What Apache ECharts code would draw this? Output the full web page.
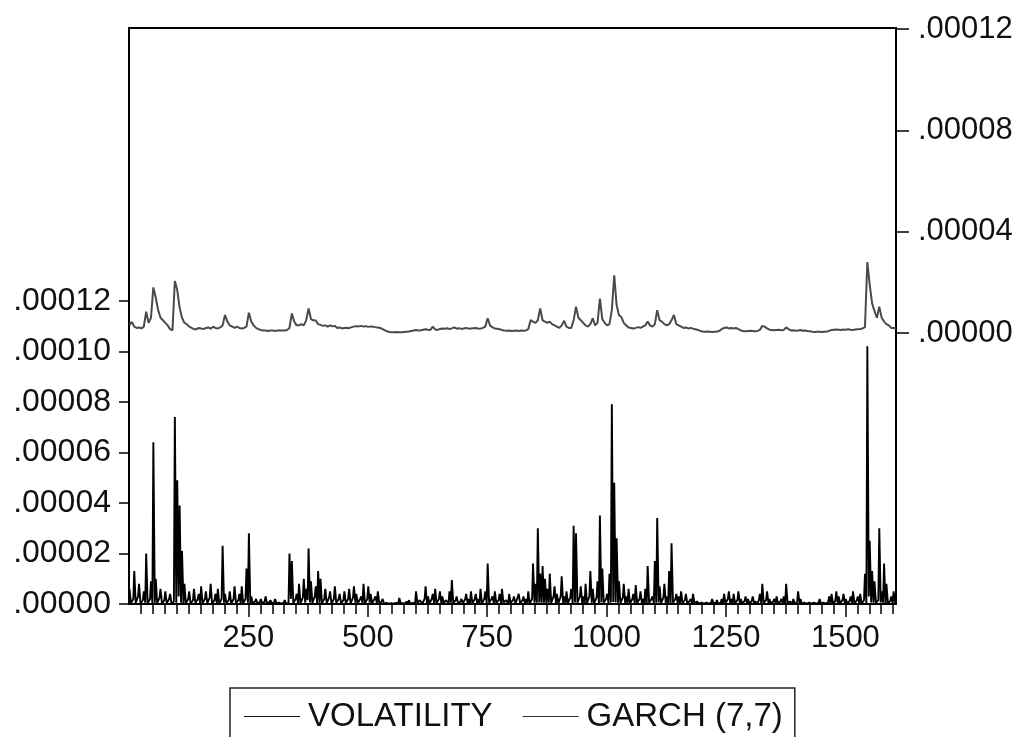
<!DOCTYPE html>
<html>
<head>
<meta charset="utf-8">
<script src="https://cdn.jsdelivr.net/npm/echarts@6/dist/echarts.min.js"></script>
<style>
html,body{margin:0;padding:0;background:#fff;}
#chart{width:1023px;height:737px;}
</style>
</head>
<body>
<div id="chart"></div>
<script>
// Values in units of 1e-6.
// volatility: read at observations 1, 6, 11, ... (every 5th)
// volatilityMid: read between them, at observations 4, 9, 14, ...
// garch: read at observations 1, 6, 11, ...
const obsStart = 1;
const obsStep = 5;
const midOffset = 3;
const seriesNames = ['VOLATILITY', 'GARCH (7,7)'];

const volatility = [
  6, 0.5, 13, 1, 8, 0.4, 5, 20, 0.5, 9,
  64, 10, 0.5, 6, 0.3, 5, 0.5, 4, 0.3, 74,
  49, 39, 21, 8, 0.5, 5, 0.3, 6, 0.5, 4,
  7, 0.3, 5, 0.5, 8, 0.3, 4, 6, 0.5, 23,
  4, 0.3, 5, 0.5, 7, 0.3, 4, 7, 0.5, 14,
  28, 3, 0.3, 2, 0.2, 2, 0.3, 3, 0.2, 1.5,
  0.2, 2, 0.3, 1, 0.2, 1.5, 0.4, 20, 17, 0.5,
  4, 8, 0.5, 10, 6, 22, 9, 0.5, 7, 13,
  10, 0.4, 6, 1, 5, 0.3, 7, 0.5, 4, 0.3,
  5, 0.5, 6, 0.3, 7, 4, 0.5, 3, 8, 0.4,
  7, 4, 0.5, 3, 5, 0.3, 2, 0.2, 1, 0.2,
  1, 0.2, 1, 2.4, 0.2, 0.5, 1, 1.5, 0.2, 1,
  5, 0.3, 2, 0.4, 7, 3, 0.5, 4, 6, 0.4,
  5, 3, 0.4, 2, 5, 9.5, 0.4, 3, 0.3, 2,
  0.4, 4, 2, 5, 0.4, 4, 2, 6, 0.4, 5,
  16, 0.5, 3, 5, 0.4, 4, 6, 0.4, 2, 4,
  0.3, 3, 1, 4, 0.3, 3, 2, 5, 0.5, 16,
  8, 30, 12, 15, 10, 6, 12, 0.5, 7, 4,
  0.5, 11, 3, 5, 0.4, 6, 31, 28, 0.5, 7,
  3, 8, 0.5, 13, 6, 0.4, 9, 35, 14, 0.5,
  4, 12, 79, 48, 26, 9, 0.5, 8, 3, 6,
  0.4, 4, 7.5, 0.5, 5, 2, 6, 15, 0.5, 3,
  17, 34, 7, 0.5, 8, 3, 13, 24, 0.5, 4,
  3, 5, 0.3, 4, 0.3, 2, 4, 0.3, 1, 0.2,
  1, 0.2, 1, 0.3, 2, 0.2, 1.5, 0.3, 2, 4,
  0.4, 5, 2, 4, 0.3, 5, 2, 0.3, 3, 2,
  0.3, 3, 1, 0.3, 4, 8, 0.4, 5, 2, 0.4,
  2, 3, 0.3, 2, 3, 8, 0.3, 1, 2, 0.2,
  5, 2, 0.2, 1, 0.2, 1, 0.2, 1, 0.3, 2,
  0.2, 1, 0.2, 3, 4, 0.3, 5, 3, 0.3, 4,
  2, 0.3, 3, 5, 0.4, 3, 4, 0.5, 12, 102,
  25, 13, 9, 0.5, 30, 5, 16, 8, 0.5, 3,
  5, 2
];

const volatilityMid = [
  0.3, 2, 0.4, 3, 0.2, 1.5, 0.5, 0.3, 2, 0.4,
  0.5, 0.3, 2.5, 0.2, 1.5, 0.3, 2, 0.2, 1, 0.5,
  3, 0.5, 0.4, 0.3, 2, 0.2, 1.5, 0.3, 2, 0.2,
  0.4, 2, 0.3, 2.5, 0.2, 1.5, 0.4, 0.3, 2, 0.5,
  0.3, 1.5, 0.2, 2, 0.3, 1.5, 0.2, 0.4, 2, 0.5,
  0.4, 0.2, 1, 0.1, 0.8, 0.1, 1, 0.2, 0.6, 0.1,
  0.8, 0.1, 0.5, 0.1, 0.6, 0.1, 0.3, 2, 0.4, 2,
  0.3, 0.4, 2.5, 0.5, 1.5, 0.6, 0.4, 3, 0.3, 0.5,
  0.4, 2, 0.3, 2.5, 0.2, 2, 0.4, 2, 0.3, 1.5,
  0.3, 2, 0.2, 2.5, 0.5, 0.3, 2, 0.4, 0.3, 2,
  0.5, 0.3, 2, 0.4, 0.3, 1, 0.1, 0.4, 0.1, 0.3,
  0.1, 0.4, 0.2, 0.1, 0.3, 0.1, 0.2, 0.1, 0.4, 0.2,
  0.3, 1.5, 0.2, 2, 0.4, 0.3, 2, 0.3, 0.4, 2,
  0.3, 0.4, 1.5, 0.2, 0.5, 0.3, 1.5, 0.2, 1, 0.3,
  2, 0.3, 0.4, 0.3, 2, 0.3, 0.4, 0.3, 2, 0.4,
  0.5, 2, 0.3, 0.4, 1.5, 0.3, 0.4, 1.5, 0.3, 0.4,
  1.5, 0.2, 1, 0.3, 1.5, 0.2, 0.4, 0.3, 2, 0.5,
  0.5, 0.6, 0.5, 0.5, 0.4, 0.5, 0.4, 3, 0.4, 0.3,
  3, 0.4, 0.3, 0.4, 2.5, 0.4, 0.6, 0.5, 3, 0.4,
  0.3, 0.4, 3, 0.5, 0.3, 2.5, 0.4, 0.6, 0.5, 2,
  0.4, 0.6, 0.8, 0.6, 0.5, 0.4, 2.5, 0.3, 0.4, 0.3,
  2, 0.3, 0.4, 2, 0.3, 0.4, 0.3, 0.5, 2, 0.4,
  0.5, 0.6, 0.4, 2.5, 0.3, 0.4, 0.4, 0.5, 2, 0.3,
  0.3, 0.4, 1.5, 0.2, 1.2, 0.2, 0.3, 1, 0.1, 0.6,
  0.1, 0.5, 0.1, 0.6, 0.1, 0.5, 0.1, 0.6, 0.2, 0.3,
  2, 0.3, 0.2, 0.3, 1.5, 0.3, 0.2, 1.2, 0.2, 0.3,
  1.2, 0.2, 0.3, 1.5, 0.3, 0.4, 1.5, 0.3, 0.2, 1,
  0.2, 0.3, 1, 0.2, 0.3, 0.4, 1, 0.2, 0.1, 0.8,
  0.3, 0.1, 0.6, 0.1, 0.5, 0.1, 0.5, 0.1, 0.6, 0.1,
  0.5, 0.1, 0.8, 0.2, 0.3, 1.2, 0.2, 0.3, 1.5, 0.3,
  0.2, 1.2, 0.3, 0.2, 1.5, 0.3, 0.2, 1.5, 0.4, 3,
  0.6, 0.5, 0.4, 1.5, 0.6, 0.5, 0.4, 0.3, 1.2, 0.3,
  0.5
];

const garch = [
  3, 4.4, 2.5, 2, 2.2, 1.8, 2.5, 8.4, 4, 6,
  18, 14, 9, 6, 5, 4, 3, 1.5, 1, 20.5,
  17, 10, 6, 4, 3.5, 2.5, 2, 1.5, 1.5, 2,
  1.8, 1.5, 2, 2.2, 1.7, 2.5, 2, 1.8, 2.2, 3,
  7.1, 4.5, 3, 2.5, 2, 2.5, 2, 1.8, 2, 2.5,
  8, 4.5, 3, 2, 1.5, 1.2, 1, 1, 0.8, 1,
  1, 0.8, 1, 1, 1, 1, 1.2, 2, 7.7, 4.5,
  3, 3, 3.5, 3, 5, 9.7, 5.5, 5, 4.9, 3.5,
  3.2, 2.8, 3, 2.5, 3, 2.6, 2.8, 2, 2.2, 1.8,
  2, 2.1, 1.9, 2.3, 2.5, 2.7, 2.6, 2.8, 2.5, 2.7,
  2.4, 2.6, 2.5, 2.3, 2.2, 2, 1.5, 1, 0.6, 0.4,
  0.3, 0.3, 0.4, 0.3, 0.3, 0.4, 0.5, 0.6, 0.8, 1,
  1.2, 1, 1.1, 1.3, 1.5, 1.3, 1.2, 2.5, 1.4, 1.2,
  1.6, 1.8, 1.7, 1.9, 1.5, 1.8, 2.2, 1.7, 1.9, 1.6,
  1.8, 2, 1.7, 1.8, 1.9, 2, 1.8, 1.7, 2, 2.5,
  5.8, 3, 2.2, 1.8, 1.7, 1.5, 1.2, 1, 0.9, 1,
  0.8, 0.9, 1, 0.8, 1, 0.9, 1, 1.5, 5.1, 4.5,
  4, 5, 9.7, 5, 4.5, 4, 4.5, 3.5, 3, 2.5,
  2, 3, 4.8, 2.5, 2, 2, 5, 10.4, 6, 5,
  4, 3, 2.5, 3.5, 5.8, 3, 4, 13.6, 5.5, 4,
  3, 3.5, 9, 22.8, 11, 7, 6.3, 4, 3, 2.2,
  2, 1.8, 2, 2.3, 2, 2.5, 3, 4.5, 3, 2.5,
  3.5, 9, 5, 4.5, 3.5, 3, 3.5, 5, 7.1, 3.5,
  3, 2.5, 2, 2.2, 1.8, 2, 1.7, 1.5, 1.2, 0.8,
  0.6, 0.5, 0.6, 0.5, 0.4, 0.5, 0.6, 0.8, 1.5, 2,
  2.2, 1.8, 2, 1.8, 2, 1.5, 1, 0.8, 0.7, 0.8,
  0.9, 0.8, 0.7, 0.8, 1.2, 2.8, 2.5, 1.8, 1.3, 1.2,
  1.1, 1.2, 1.3, 1.1, 1.2, 2.2, 1.5, 1, 1.1, 0.9,
  1, 1.2, 0.9, 1, 0.8, 0.7, 0.5, 0.4, 0.5, 0.5,
  0.4, 0.5, 0.6, 0.8, 1.2, 1.3, 1.4, 1.3, 1.2, 1.4,
  1.3, 1.5, 1.3, 1.2, 1.4, 1.5, 1.6, 1.8, 2.3, 28,
  19, 11.7, 8.6, 6, 10.4, 6, 4.5, 3.5, 3, 2,
  2, 1.8
];

const xMajorTicks = [250, 500, 750, 1000, 1250, 1500];
const xMinorStep = 25;
const leftTicks = [0, 20, 40, 60, 80, 100, 120];
const rightTicks = [0, 40, 80, 120];

const xMinorTicks = [];
for (let v = xMinorStep; v <= 1600; v += xMinorStep) xMinorTicks.push(v);

const fmt = v => '.' + (v / 1e6).toFixed(5).split('.')[1];
const FONT = "'Liberation Sans', Arial, sans-serif";

const volData = [];
volatility.forEach((v, i) => {
  volData.push([obsStart + i * obsStep, v]);
  if (i < volatilityMid.length) volData.push([obsStart + i * obsStep + midOffset, volatilityMid[i]]);
});
const garchData = garch.map((v, i) => [obsStart + i * obsStep, v]);

const chart = echarts.init(document.getElementById('chart'), null, {renderer: 'canvas'});
chart.setOption({
  animation: false,
  backgroundColor: '#fff',
  grid: {
    left: 129, right: 127, top: 28, bottom: 133,
    show: true, borderColor: '#000', borderWidth: 2, backgroundColor: 'transparent'
  },
  legend: {
    left: 230, top: 688,
    padding: [12, 12, 40, 14],
    borderColor: '#222', borderWidth: 1.5,
    itemWidth: 56, itemHeight: 12, itemGap: 30,
    textStyle: {fontFamily: FONT, fontSize: 33, color: '#111', padding: [0, 0, 0, 3]},
    data: seriesNames.map(n => ({name: n, icon: 'path://M0,5L56,5L56,6L0,6Z'}))
  },
  xAxis: [
    {
      type: 'value', min: 0, max: 1606, interval: 250, position: 'bottom',
      axisLine: {show: true, onZero: false, lineStyle: {color: '#000', width: 2}},
      axisTick: {show: true, customValues: xMajorTicks, length: 13, lineStyle: {color: '#000', width: 1.5}},
      axisLabel: {show: true, customValues: xMajorTicks, formatter: v => String(v), margin: 19, fontFamily: FONT, fontSize: 31, color: '#111'},
      splitLine: {show: false}
    },
    {
      type: 'value', min: 0, max: 1606, position: 'bottom',
      axisLine: {show: false, onZero: false},
      axisTick: {show: true, customValues: xMinorTicks, length: 10, lineStyle: {color: '#000', width: 1.5}},
      axisLabel: {show: false},
      splitLine: {show: false}
    }
  ],
  yAxis: [
    {
      type: 'value', position: 'left', min: 0, max: 227.9,
      axisLine: {show: true, onZero: false, lineStyle: {color: '#000', width: 2}},
      axisTick: {show: true, customValues: leftTicks, length: 10, lineStyle: {color: '#000', width: 1.5}},
      axisLabel: {show: true, customValues: leftTicks, formatter: fmt, margin: 18, fontFamily: FONT, fontSize: 32, color: '#111'},
      splitLine: {show: false}
    },
    {
      type: 'value', position: 'right', min: -107, max: 120.4,
      axisLine: {show: true, onZero: false, lineStyle: {color: '#000', width: 2}},
      axisTick: {show: true, customValues: rightTicks, length: 13, lineStyle: {color: '#000', width: 1.5}},
      axisLabel: {show: true, customValues: rightTicks, formatter: fmt, margin: 22, fontFamily: FONT, fontSize: 31, color: '#111'},
      splitLine: {show: false}
    }
  ],
  series: [
    {
      name: seriesNames[0], type: 'line', xAxisIndex: 0, yAxisIndex: 0,
      data: volData, showSymbol: false, symbol: 'none',
      lineStyle: {color: '#000', width: 1.9}, itemStyle: {color: '#111'}
    },
    {
      name: seriesNames[1], type: 'line', xAxisIndex: 0, yAxisIndex: 1,
      data: garchData, showSymbol: false, symbol: 'none',
      lineStyle: {color: '#4a4a4a', width: 2}, itemStyle: {color: '#333'}
    }
  ]
});
</script>
</body>
</html>
